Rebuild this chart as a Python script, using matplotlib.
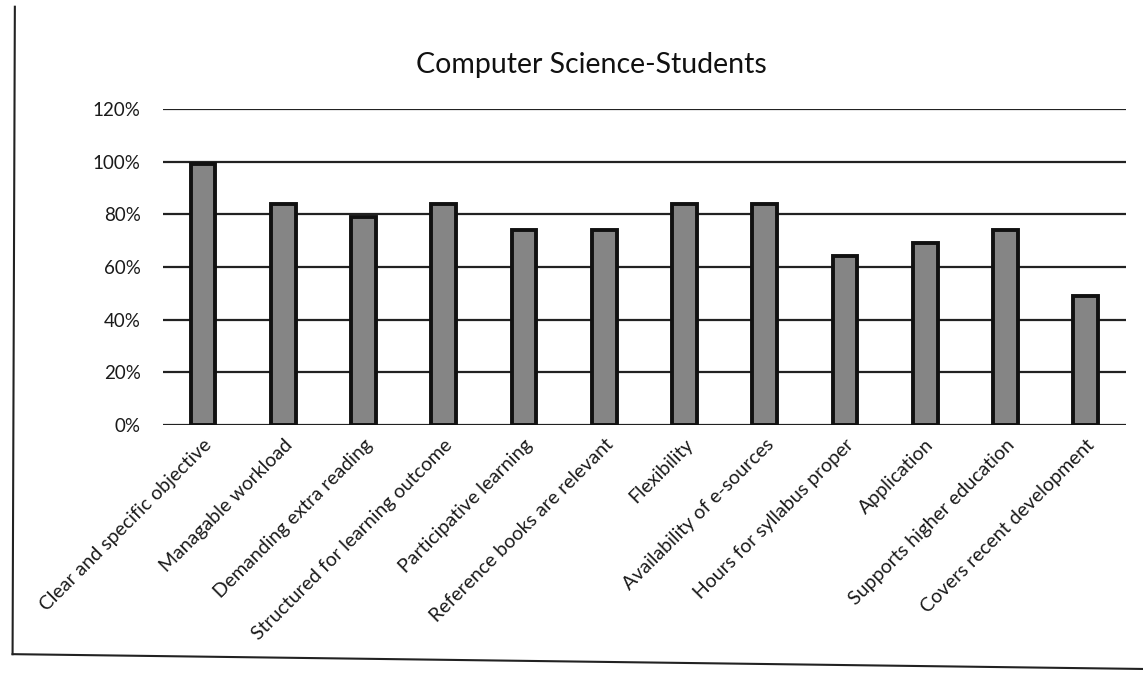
#!/usr/bin/env python3
"""Bar chart: Computer Science-Students responses (percent agreeing)."""

import matplotlib
matplotlib.use("Agg")
import matplotlib.pyplot as plt
from matplotlib.lines import Line2D
from matplotlib.ticker import PercentFormatter

CATEGORIES = [
    "Clear and specific objective",
    "Managable workload",
    "Demanding extra reading",
    "Structured for learning outcome",
    "Participative learning",
    "Reference books are relevant",
    "Flexibility",
    "Availability of e-sources",
    "Hours for syllabus proper",
    "Application",
    "Supports higher education",
    "Covers recent development",
]
VALUES = [99, 84, 79, 84, 74, 74, 84, 84, 64, 69, 74, 49]
Y_TICKS = [0, 20, 40, 60, 80, 100, 120]

plt.rcParams["font.family"] = ["Lato", "DejaVu Sans"]

fig = plt.figure(figsize=(11.43, 6.73), dpi=100)
fig.patch.set_facecolor("white")
ax = fig.add_axes([0.1425, 0.3685, 0.8425, 0.4695])

x = range(len(CATEGORIES))
ax.bar(x, VALUES, width=0.31, color="#858585", edgecolor="#111111",
       linewidth=2.8, zorder=3)

ax.set_xlim(-0.5, len(CATEGORIES) - 0.5)
ax.set_ylim(0, 120)
ax.set_yticks(Y_TICKS)
ax.yaxis.set_major_formatter(PercentFormatter(decimals=0))
ax.grid(True, axis="y", color="#222222", lw=1.6, zorder=0)
ax.set_axisbelow(True)
for s in ax.spines.values():
    s.set_visible(False)
ax.tick_params(length=0, labelsize=13.5, colors="#1a1a1a", pad=16)
ax.tick_params(axis="x", pad=8)
ax.set_xticks(list(x))
ax.set_xticklabels(CATEGORIES, rotation=45, ha="right",
                   rotation_mode="anchor", fontsize=14)

fig.text(0.517, 0.903, "Computer Science-Students", ha="center",
         va="center", fontsize=20.5, color="#111111")

# frame of the pasted chart (left and bottom edges visible)
fig.add_artist(Line2D([0.013, 0.011], [0.99, 0.028], transform=fig.transFigure,
                      color="#222222", lw=1.5))
fig.add_artist(Line2D([0.011, 1.0], [0.028, 0.006], transform=fig.transFigure,
                      color="#222222", lw=1.5))

fig.savefig("out.png", dpi=100, facecolor="white")
